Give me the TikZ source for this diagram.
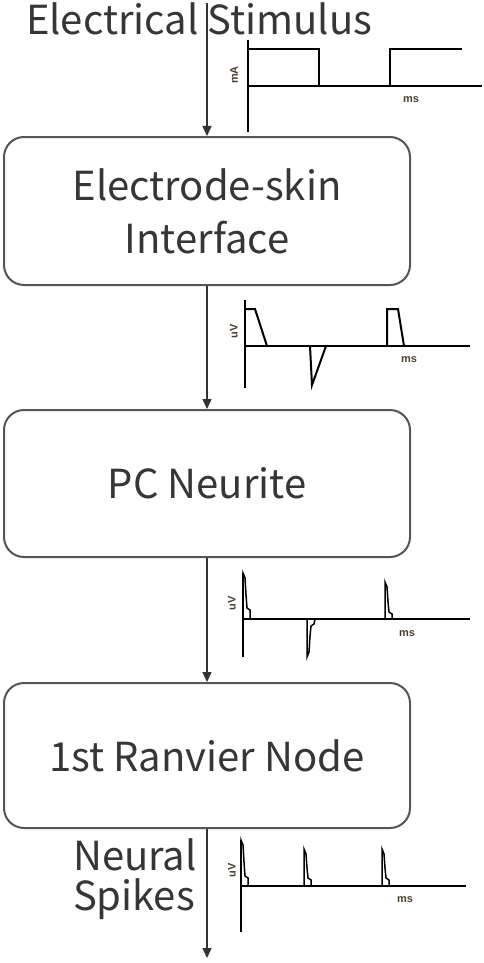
\documentclass[tikz,border=0pt]{standalone}
\usepackage{fontspec}
\newfontfamily\lblfont{Noto Sans CJK SC}
\newfontfamily\axfont{Liberation Sans}
\usetikzlibrary{arrows.meta}
\definecolor{txtgray}{HTML}{363636}
\definecolor{boxgray}{HTML}{555555}
\definecolor{linegray}{HTML}{333333}
\definecolor{lblcol}{HTML}{4A4030}
\begin{document}
\begin{tikzpicture}[x=1pt,y=-1pt,
  box/.style={draw=boxgray, line width=2pt, rounded corners=20pt, minimum width=406pt,
    inner sep=0pt, font=\lblfont\fontsize{40}{53}\selectfont, text=txtgray, align=center},
  lbl/.style={font=\lblfont\fontsize{40}{48}\selectfont, text=txtgray, inner sep=0pt},
  flow/.style={line width=1.5pt, draw=linegray, -{Triangle[width=9pt,length=10pt]}},
  sig/.style={line width=2pt, draw=black, line join=miter},
  spk/.style={line width=1.5pt, draw=black},
  axlbl/.style={font=\axfont\bfseries\fontsize{11}{13}\selectfont, text=lblcol, inner sep=0pt}]
\useasboundingbox (0,0) rectangle (484,963);
\fill[white] (0,0) rectangle (484,963);

% boxes
\node[box, minimum height=148pt] (b1) at (207,211) {Electrode-skin\\Interface};
\node[box, minimum height=147pt] (b2) at (207,483.5) {PC Neurite};
\node[box, minimum height=145pt] (b3) at (207,755.5) {1st Ranvier Node};

% labels
\node[lbl, anchor=base] (title) at (199,35) {Electrical Stimulus};
\node[lbl, anchor=base east] (neural) at (197,870) {Neural};
\node[lbl, anchor=base east] (spikes) at (195,910) {Spikes};

% flow
\coordinate (top) at (207,3);
\coordinate (bot) at (207,958);
\draw[flow] (top) -- (b1.north);
\draw[flow] (b1.south) -- (b2.north);
\draw[flow] (b2.south) -- (b3.north);
\draw[flow] (b3.south) -- (bot);

% graph 1: stimulus
\draw[sig] (248,40) -- (248,132);
\draw[sig] (248,86) -- (482,86);
\draw[sig] (248,49) -- (319,49) -- (319,86);
\draw[sig] (390,86) -- (390,49) -- (462,49);
\node[axlbl, rotate=90] (g1y) at (234,75) {mA};
\node[axlbl] (g1x) at (411,100) {ms};

% graph 2: electrode-skin
\draw[sig] (245,300) -- (245,388);
\draw[sig] (245,346) -- (470,346);
\draw[sig] (245,309) -- (255,309) -- (267,346);
\draw[sig] (310,346) -- (312,385) -- (326,346);
\draw[sig] (387,346) -- (387,309) -- (398,309) -- (404,346);
\node[axlbl, rotate=90] (g2y) at (234,331) {uV};
\node[axlbl] (g2x) at (409,360) {ms};

% graph 3: PC neurite
\draw[sig] (243,573) -- (243,657);
\draw[sig] (243,619) -- (470,619);
\draw[spk] (243,619) -- (243,573) -- (245,578) -- (246,595) -- (247,608) -- (250,610) -- (250,619);
\draw[spk] (385,619) -- (385,582) -- (387,587) -- (388,602) -- (389,612) -- (392,614) -- (392,619);
\draw[spk] (307,619) -- (307,657) -- (309,652) -- (310,636) -- (311,626) -- (314,624) -- (315,619);
\node[axlbl, rotate=90] (g3y) at (232,603) {uV};
\node[axlbl] (g3x) at (407,634) {ms};

% graph 4: neural spikes
\draw[sig] (241,840) -- (241,932);
\draw[sig] (241,886) -- (466,886);
\draw[spk] (241,886) -- (241,840) -- (243,845) -- (244,862) -- (245,876) -- (248,878) -- (248,886);
\draw[spk] (304,886) -- (304,849) -- (306,854) -- (307,868) -- (308,878) -- (311,880) -- (311,886);
\draw[spk] (382,886) -- (382,849) -- (384,854) -- (385,868) -- (386,878) -- (389,880) -- (389,886);
\node[axlbl, rotate=90] (g4y) at (232,870) {uV};
\node[axlbl] (g4x) at (405,900) {ms};
\end{tikzpicture}
\end{document}
